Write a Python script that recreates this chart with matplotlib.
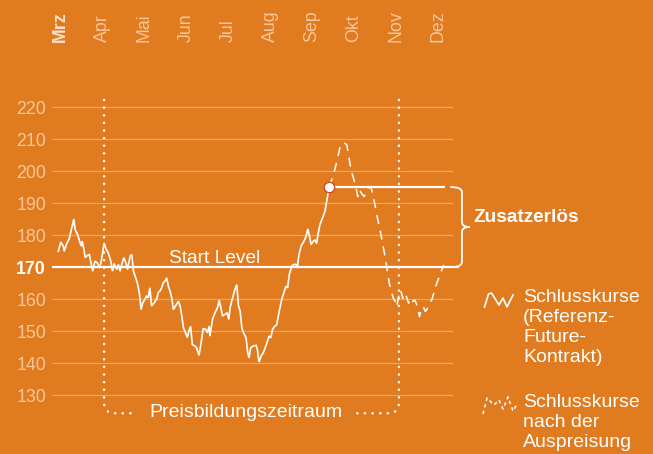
import matplotlib
matplotlib.use("Agg")
import matplotlib.pyplot as plt
from matplotlib.lines import Line2D
from matplotlib.path import Path
from matplotlib.patches import PathPatch

# months since start of March
months = ["Mrz", "Apr", "Mai", "Jun", "Jul", "Aug", "Sep", "Okt", "Nov", "Dez"]
y_ticks = [130, 140, 150, 160, 170, 180, 190, 200, 210, 220]

start_level = 170
lock_level = 195
period_start = 1.05
period_end = 8.07

# closing prices of the reference future contract
close_t = [
    -0.04, 0.02, 0.08, 0.10, 0.16, 0.22, 0.28, 0.33, 0.36, 0.42, 0.48, 0.51, 0.53, 0.57,
    0.60, 0.65, 0.70, 0.73, 0.78, 0.83, 0.89, 0.95, 1.01, 1.05, 1.10, 1.15, 1.21, 1.25,
    1.29, 1.35, 1.39, 1.43, 1.47, 1.52, 1.57, 1.61, 1.67, 1.71, 1.75, 1.79, 1.84, 1.89,
    1.93, 1.97, 2.02, 2.06, 2.10, 2.14, 2.18, 2.24, 2.30, 2.34, 2.38, 2.42, 2.46, 2.50,
    2.54, 2.58, 2.62, 2.66, 2.70, 2.75, 2.82, 2.86, 2.90, 2.94, 2.99, 3.03, 3.07, 3.11,
    3.15, 3.21, 3.25, 3.31, 3.36, 3.41, 3.47, 3.51, 3.55, 3.57, 3.63, 3.69, 3.75, 3.79,
    3.83, 3.87, 3.93, 3.98, 4.02, 4.05, 4.10, 4.17, 4.21, 4.25, 4.29, 4.33, 4.37, 4.43,
    4.47, 4.50, 4.54, 4.60, 4.67, 4.70, 4.74, 4.79, 4.84, 4.90, 4.94, 4.98, 5.02, 5.06,
    5.10, 5.16, 5.22, 5.28, 5.33, 5.38, 5.42, 5.46, 5.52, 5.57, 5.62, 5.65, 5.69, 5.74,
    5.81, 5.86, 5.90, 5.94, 5.98, 6.03, 6.07, 6.11, 6.15, 6.19, 6.25, 6.31, 6.35, 6.41,
]
close_v = [
    174.9, 177.8, 176.5, 174.9, 177.3, 178.8, 182.2, 185.0, 181.7, 180.1, 177.5, 176.5, 178.1, 175.5,
    172.9, 173.6, 173.9, 171.8, 168.7, 171.8, 171.3, 169.7, 173.9, 177.5, 175.5, 174.4, 171.8, 168.7,
    171.1, 169.2, 170.8, 168.7, 170.8, 172.9, 171.3, 169.2, 173.4, 173.9, 168.7, 167.1, 165.1, 161.9,
    156.7, 158.8, 159.9, 160.9, 160.4, 163.5, 157.8, 158.8, 159.9, 162.1, 162.5, 163.5, 165.1, 165.6,
    166.6, 164.0, 162.5, 160.4, 156.7, 157.8, 159.3, 157.8, 154.7, 151.0, 149.4, 147.9, 150.0, 151.5,
    145.8, 145.3, 144.8, 142.4, 146.3, 150.7, 150.5, 149.4, 151.5, 148.4, 153.6, 155.7, 157.3, 159.6,
    157.3, 154.7, 155.2, 155.7, 153.6, 157.3, 159.9, 163.2, 164.5, 157.8, 156.2, 151.0, 149.4, 147.9,
    143.2, 141.6, 144.8, 145.3, 145.5, 144.2, 140.3, 142.2, 143.2, 145.3, 146.8, 148.4, 147.9, 150.5,
    151.3, 152.0, 156.2, 159.9, 161.9, 164.0, 163.5, 167.7, 170.3, 170.8, 170.8, 169.7, 173.9, 176.5,
    178.1, 179.6, 181.9, 179.6, 177.0, 178.1, 178.4, 177.3, 180.7, 183.3, 185.3, 187.4, 190.6, 195.0,
]

# closing prices after the price lock
after_t = [
    6.41, 6.51, 6.59, 6.67, 6.71, 6.77, 6.83, 6.89, 6.94, 7.00, 7.05, 7.09, 7.13, 7.18,
    7.24, 7.29, 7.34, 7.40, 7.44, 7.50, 7.56, 7.62, 7.68, 7.74, 7.79, 7.84, 7.90, 7.94,
    7.98, 8.02, 8.06, 8.11, 8.16, 8.20, 8.25, 8.30, 8.35, 8.40, 8.45, 8.51, 8.56, 8.60,
    8.65, 8.70, 8.75, 8.80, 8.85, 8.90, 8.97, 9.03, 9.09, 9.14,
]
after_v = [
    195.0, 198.8, 202.9, 207.6, 208.6, 208.8, 208.1, 203.4, 199.8, 197.2, 194.6, 192.0, 194.1, 193.0,
    192.0, 193.5, 194.6, 195.1, 193.0, 189.4, 185.2, 181.6, 177.4, 173.2, 169.1, 164.9, 161.8, 160.2,
    159.2, 157.6, 160.7, 162.8, 160.2, 161.8, 160.7, 158.7, 160.2, 159.2, 159.7, 157.6, 154.5, 156.7,
    157.6, 156.1, 157.1, 158.7, 159.7, 161.8, 164.9, 167.0, 169.1, 170.6,
]

BG = "#e17b1f"
GRID = "#f0a462"
TICK = "#f7c69a"
WHITE = "white"
FONT = "Liberation Sans"

plt.rcParams["font.family"] = FONT

W, H = 653, 454
fig = plt.figure(figsize=(W / 100, H / 100), dpi=100, facecolor=BG)


def fpos(x, y):
    return x / W, 1 - y / H


ax = fig.add_axes([52 / W, (H - 411) / H, 401 / W, 320 / H])
ax.set_facecolor(BG)
ax.set_xlim(-0.19, 9.357)
ax.set_ylim(125, 225)
for s in ax.spines.values():
    s.set_visible(False)

# grid
for v in y_ticks:
    if v != start_level:
        ax.axhline(v, color=GRID, lw=0.9, zorder=1)

ax.set_yticks(y_ticks)
ax.set_yticklabels([str(v) for v in y_ticks])
ax.tick_params(axis="y", length=0, pad=4.3, labelsize=12.8, labelcolor=TICK)
for lab in ax.get_yticklabels():
    if lab.get_text() == str(start_level):
        lab.set_color(WHITE)
        lab.set_fontweight("bold")

ax.set_xticks(range(len(months)))
ax.set_xticklabels(months)
ax.tick_params(axis="x", bottom=False, labelbottom=False, top=False, labeltop=True,
               length=0, pad=35.5, labelsize=12.8, labelcolor=TICK, labelrotation=90)
for lab in ax.get_xticklabels():
    lab.set_va("bottom")
ax.get_xticklabels()[0].set_fontweight("bold")
ax.get_xticklabels()[0].set_color("#fbe2cb")

# start level and lock level
ax.plot([-0.19, 9.5], [start_level, start_level], color=WHITE, lw=1.6, zorder=3,
        clip_on=False, solid_capstyle="butt")
ax.text(3.67, 172.6, "Start Level", color=WHITE, fontsize=13.8, ha="center", va="center")
ax.plot([close_t[-1], 9.17], [lock_level, lock_level], color=WHITE, lw=1.6, zorder=3,
        solid_capstyle="butt")

# price series
ax.plot(close_t, close_v, color=WHITE, lw=1.2, zorder=4, solid_joinstyle="miter")
ax.plot(after_t, after_v, color=WHITE, lw=1.1, zorder=4, dashes=(6, 4.5))
ax.plot([close_t[-1]], [close_v[-1]], "o", ms=7.5, mfc=WHITE, mec="#c8471b", mew=0.9, zorder=6)

# pricing period markers
dot_style = dict(fill=False, edgecolor=WHITE, lw=1.8, linestyle=(0, (0.05, 3.0)),
                 capstyle="round", clip_on=False, zorder=2)
left_path = Path(
    [(period_start, 222.2), (period_start, 127.6), (period_start, 124.3),
     (period_start + 0.25, 124.3), (1.80, 124.3)],
    [Path.MOVETO, Path.LINETO, Path.CURVE3, Path.CURVE3, Path.LINETO],
)
right_path = Path(
    [(period_end, 222.2), (period_end, 127.6), (period_end, 124.3),
     (period_end - 0.25, 124.3), (7.00, 124.3)],
    [Path.MOVETO, Path.LINETO, Path.CURVE3, Path.CURVE3, Path.LINETO],
)
ax.add_patch(PathPatch(left_path, **dot_style))
ax.add_patch(PathPatch(right_path, **dot_style))
ax.text(4.43, 124.4, "Preisbildungszeitraum", color=WHITE, fontsize=14,
        ha="center", va="center", clip_on=False)

# bracket for the extra revenue
bx0, bx1, btip = 9.29, 9.57, 9.76
bmid = (lock_level + start_level) / 2
brace = Path(
    [(bx0, lock_level), (bx1, lock_level), (bx1, lock_level - 1.6),
     (bx1, bmid + 1.5), (bx1, bmid), (btip, bmid),
     (bx1, bmid), (bx1, bmid - 1.5),
     (bx1, start_level + 1.6), (bx1, start_level), (bx0 + 0.05, start_level)],
    [Path.MOVETO, Path.CURVE3, Path.CURVE3,
     Path.LINETO, Path.CURVE3, Path.CURVE3,
     Path.CURVE3, Path.CURVE3,
     Path.LINETO, Path.CURVE3, Path.CURVE3],
)
ax.add_patch(PathPatch(brace, fill=False, edgecolor=WHITE, lw=1.3, clip_on=False, zorder=3))
fig.text(*fpos(473, 217), "Zusatzerlös", color=WHITE, fontsize=13.7, fontweight="bold",
         ha="left", va="center")

# legend
solid_glyph = [(484.5, 307), (488.5, 294), (491.5, 293), (499, 305), (503, 298), (507, 307), (513, 295)]
dashed_glyph = [(483, 414), (487, 398), (494, 405), (499, 400), (503, 409), (508, 397),
                (513, 411), (517, 404)]
gx, gy = zip(*[fpos(x, y) for x, y in solid_glyph])
fig.add_artist(Line2D(gx, gy, color=WHITE, lw=1.2, transform=fig.transFigure))
gx, gy = zip(*[fpos(x, y) for x, y in dashed_glyph])
fig.add_artist(Line2D(gx, gy, color=WHITE, lw=1.1, dashes=(2.2, 2.2), transform=fig.transFigure))

fig.text(*fpos(523, 289), "Schlusskurse\n(Referenz-\nFuture-\nKontrakt)", color=WHITE,
         fontsize=14, ha="left", va="top", linespacing=1.22)
fig.text(*fpos(523, 394), "Schlusskurse\nnach der\nAuspreisung", color=WHITE,
         fontsize=14, ha="left", va="top", linespacing=1.22)

fig.savefig("out.png", dpi=100, facecolor=BG)
